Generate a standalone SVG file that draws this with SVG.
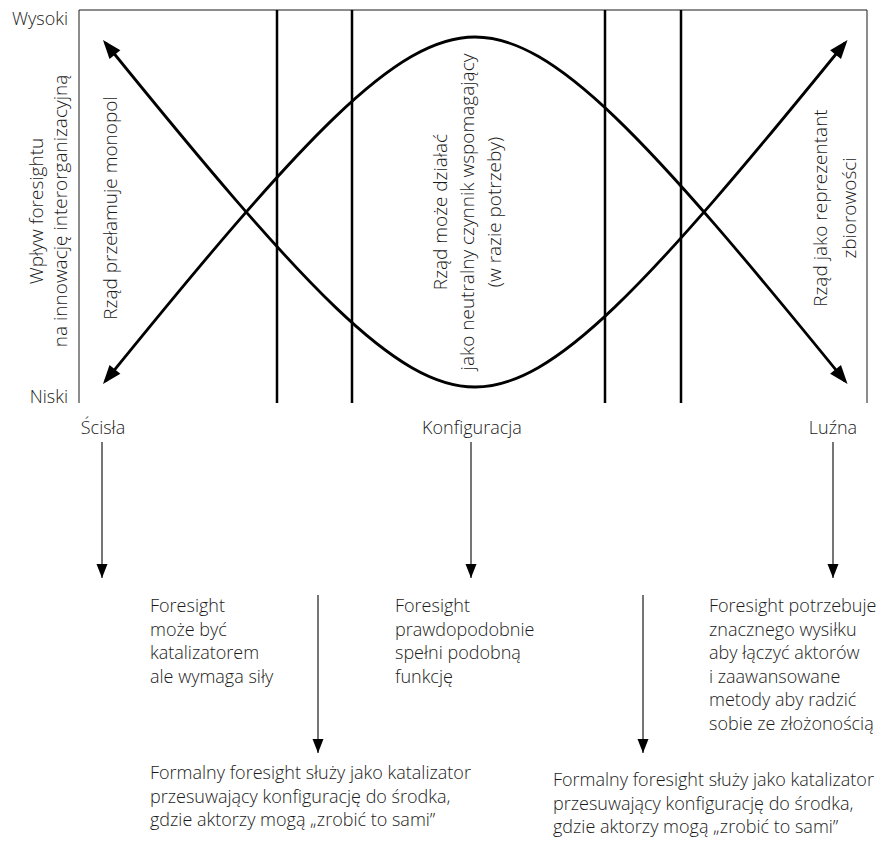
<svg xmlns="http://www.w3.org/2000/svg" width="886" height="844" viewBox="0 0 886 844">
<style>
text{font-family:"Open Sans","Noto Sans","Liberation Sans",sans-serif;font-size:18px;font-weight:300;fill:#1a1a1a}
.rot{font-size:19px}
.frame{fill:none;stroke:#1a1a1a;stroke-width:1}
.div{fill:none;stroke:#000;stroke-width:2.5}
.curve{fill:none;stroke:#000;stroke-width:2.8;marker-start:url(#bigArrow);marker-end:url(#bigArrow)}
.thin{fill:none;stroke:#1a1a1a;stroke-width:1.2;marker-end:url(#smallArrow)}
</style>
<defs>
<marker id="bigArrow" viewBox="-22 -8 26 16" refX="-4" refY="0" markerWidth="26" markerHeight="16" markerUnits="userSpaceOnUse" orient="auto-start-reverse">
<path d="M0,0 L-19,-7 L-19,7 Z" fill="#000"/>
</marker>
<marker id="smallArrow" viewBox="-16 -7 18 14" refX="0" refY="0" markerWidth="18" markerHeight="14" markerUnits="userSpaceOnUse" orient="auto">
<path d="M0,0 L-14,-5.5 L-14,5.5 Z" fill="#000"/>
</marker>
</defs>
<g id="frame">
<path class="frame" d="M79,403 L79,10 L867,10 L867,403"/>
<line class="div" x1="277" y1="10" x2="277" y2="403"/>
<line class="div" x1="352" y1="10" x2="352" y2="403"/>
<line class="div" x1="605" y1="10" x2="605" y2="403"/>
<line class="div" x1="681" y1="10" x2="681" y2="403"/>
</g>
<g id="connectors">
<path class="curve" d="M105.5,43 C304,288 396,387 475,387 C554,387 646,288 845,43"/>
<path class="curve" d="M105.5,381 C304,136 396,37 475,37 C554,37 646,136 845,381"/>
<line class="thin" x1="102" y1="442" x2="102" y2="578"/>
<line class="thin" x1="471" y1="442" x2="471" y2="578"/>
<line class="thin" x1="833" y1="442" x2="833" y2="578"/>
<line class="thin" x1="318" y1="595" x2="318" y2="753"/>
<line class="thin" x1="643" y1="595" x2="643" y2="753"/>
</g>
<g id="axis-labels">
<text x="68" y="25" text-anchor="end">Wysoki</text>
<text x="68" y="403" text-anchor="end">Niski</text>
<text class="rot" transform="translate(43,211) rotate(-90)" text-anchor="middle"><tspan x="0" y="0">Wpływ foresightu</tspan><tspan x="0" y="24">na innowację interorganizacyjną</tspan></text>
</g>
<g id="zone-left">
<text class="rot" transform="translate(117,208) rotate(-90)" text-anchor="middle">Rząd przełamuje monopol</text>
</g>
<g id="zone-middle">
<text class="rot" transform="translate(447,212) rotate(-90)" text-anchor="middle"><tspan x="0" y="0">Rząd może działać</tspan><tspan x="0" y="27">jako neutralny czynnik wspomagający</tspan><tspan x="0" y="54">(w razie potrzeby)</tspan></text>
</g>
<g id="zone-right">
<text class="rot" transform="translate(827,208) rotate(-90)" text-anchor="middle"><tspan x="0" y="0">Rząd jako reprezentant</tspan><tspan x="0" y="29">zbiorowości</tspan></text>
</g>
<g id="node-scisla">
<text x="103" y="434" text-anchor="middle">Ścisła</text>
</g>
<g id="node-konfiguracja">
<text x="472" y="434" text-anchor="middle">Konfiguracja</text>
</g>
<g id="node-luzna">
<text x="833" y="434" text-anchor="middle">Luźna</text>
</g>
<g id="node-desc-left">
<text x="150" y="612"><tspan x="150" y="612">Foresight</tspan><tspan x="150" y="636">może być</tspan><tspan x="150" y="659">katalizatorem</tspan><tspan x="150" y="683">ale wymaga siły</tspan></text>
</g>
<g id="node-desc-middle">
<text x="395" y="612"><tspan x="395" y="612">Foresight</tspan><tspan x="395" y="636">prawdopodobnie</tspan><tspan x="395" y="659">spełni podobną</tspan><tspan x="395" y="683">funkcję</tspan></text>
</g>
<g id="node-desc-right">
<text x="709" y="612"><tspan x="709" y="612">Foresight potrzebuje</tspan><tspan x="709" y="636">znacznego wysiłku</tspan><tspan x="709" y="659">aby łączyć aktorów</tspan><tspan x="709" y="683">i zaawansowane</tspan><tspan x="709" y="706">metody aby radzić</tspan><tspan x="709" y="730">sobie ze złożonością</tspan></text>
</g>
<g id="node-formal-left">
<text x="150" y="779"><tspan x="150" y="779">Formalny foresight służy jako katalizator</tspan><tspan x="150" y="803">przesuwający konfigurację do środka,</tspan><tspan x="150" y="826">gdzie aktorzy mogą „zrobić to sami”</tspan></text>
</g>
<g id="node-formal-right">
<text x="553" y="786"><tspan x="553" y="786">Formalny foresight służy jako katalizator</tspan><tspan x="553" y="810">przesuwający konfigurację do środka,</tspan><tspan x="553" y="833">gdzie aktorzy mogą „zrobić to sami”</tspan></text>
</g>
</svg>
